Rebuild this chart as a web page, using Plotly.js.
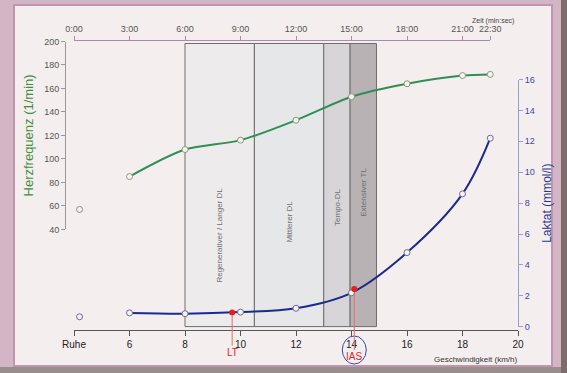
<!DOCTYPE html>
<html><head><meta charset="utf-8">
<script src="https://cdn.plot.ly/plotly-3.0.1.min.js"></script>
<style>html,body{margin:0;padding:0;background:#d3b5c5;} #chart{width:567px;height:373px;}</style>
</head><body><div id="chart"></div>
<script>
// ---- data ----
const restSpeed = 4.2;          // "Ruhe"
const restHeartRate = 57;
const restLactate = 0.65;
const speed = [6, 8, 10, 12, 14, 16, 18, 19];
const heartRate = [85, 108, 116, 133, 153, 164, 171, 172];
const lactate = [0.9, 0.85, 0.95, 1.2, 2.2, 4.8, 8.6, 12.2];
const thresholdNames = ['LT', 'IAS'];
const thresholdSpeed = [9.7, 14.1];
const thresholdLactate = [0.92, 2.45];
const zoneNames = ['Regenerativer / Langer DL', 'Mittlerer DL', 'Tempo-DL', 'Extensiver TL'];
const zoneEdges = [8, 10.5, 13, 13.95, 14.9];
const speedTicks = [4, 6, 8, 10, 12, 14, 16, 18, 20];
const speedTickText = ['Ruhe', '6', '8', '10', '12', '14', '16', '18', '20'];
const timeTicks = [0, 3, 6, 9, 12, 15, 18, 21, 22.5];
const timeTickText = ['0:00', '3:00', '6:00', '9:00', '12:00', '15:00', '18:00', '21:00', '22:30'];
const hfTicks = [40, 60, 80, 100, 120, 140, 160, 180, 200];
const lacTicks = [0, 2, 4, 6, 8, 10, 12, 14, 16];

// ---- layout helpers (pixel -> paper fraction) ----
const W = 567, H = 373, ML = 65, MR = 49, MT = 40, MB = 43;
const PW = W - ML - MR, PH = H - MT - MB;
const fx = p => (p - ML) / PW;
const fy = p => (H - MB - p) / PH;
const xStart = 74, xEnd = 518;                       // speed 4 .. 20
const pxPerKmh = (xEnd - xStart) / 16;
const timeEndPx = xStart + (22.5 / 1.5) * pxPerKmh;  // 22:30 aligned with stage speed

const zoneFill = ['#eeebed', '#e5e7e8', '#d7d5d8', '#b8b2b5'];
const zoneLabelY = [0.328, 0.374, 0.424, 0.474];

const shapes = [
  {type:'rect', xref:'paper', yref:'paper', x0:fx(14), x1:fx(552), y0:fy(366), y1:fy(5),
   fillcolor:'#f5eeee', line:{color:'#bf95b0', width:2}, layer:'below'},
  {type:'rect', xref:'paper', yref:'paper', x0:fx(0), x1:fx(567), y0:fy(373), y1:fy(367),
   fillcolor:'#998d8e', line:{width:0}, layer:'below'},
  {type:'rect', xref:'paper', yref:'paper', x0:fx(561), x1:fx(567), y0:fy(373), y1:fy(0),
   fillcolor:'#7d6c6e', line:{width:0}, layer:'below'}
];
for (let i = 0; i < zoneNames.length; i++) {
  shapes.push({type:'rect', xref:'x', yref:'paper', x0:zoneEdges[i], x1:zoneEdges[i+1],
    y0:fy(326.6), y1:fy(43.5), fillcolor:zoneFill[i], line:{color:'#6e6e6e', width:1}, layer:'below'});
}
// hand-drawn circle around IAS label
const iasPx = xStart + (thresholdSpeed[1] - 4) * pxPerKmh;
shapes.push({type:'circle', xref:'paper', yref:'paper', x0:fx(iasPx - 12), x1:fx(iasPx + 12),
  y0:fy(364), y1:fy(336), line:{color:'#3a4aa8', width:1}});

const annotations = [];
for (let i = 0; i < zoneNames.length; i++) {
  annotations.push({text:zoneNames[i], xref:'x', yref:'paper', x:(zoneEdges[i] + zoneEdges[i+1]) / 2,
    y:zoneLabelY[i], xanchor:'center', yanchor:'middle', textangle:-90, showarrow:false,
    font:{size:8, color:'#6e6e6e'}});
}
const thrAy = [40, 68];
for (let i = 0; i < thresholdNames.length; i++) {
  annotations.push({text:thresholdNames[i], xref:'x', yref:'y2', x:thresholdSpeed[i], y:thresholdLactate[i],
    showarrow:true, arrowhead:0, arrowwidth:1, arrowcolor:'#e2705e', ax:0, ay:thrAy[i], standoff:3,
    font:{size:10, color:'#e0262a'}});
}
annotations.push({text:'Zeit (min:sec)', xref:'x2', x:22.5, xshift:3, yref:'paper', y:fy(15),
  showarrow:false, font:{size:7, color:'#444'}});
annotations.push({text:'Geschwindigkeit (km/h)', xref:'x', x:20, xanchor:'right', yref:'paper', y:fy(359),
  yanchor:'middle', showarrow:false, borderpad:0, font:{size:8, color:'#333'}});

const traces = [
  {x:speed, y:heartRate, xaxis:'x', yaxis:'y', mode:'lines+markers', cliponaxis:false,
   line:{color:'#2f8f55', width:2, shape:'spline', smoothing:0.8},
   marker:{symbol:'circle', size:6, color:'#f6f3ee', line:{color:'#8a9a78', width:1}}},
  {x:[restSpeed], y:[restHeartRate], xaxis:'x', yaxis:'y', mode:'markers', cliponaxis:false,
   marker:{symbol:'circle', size:6, color:'#f6f3ee', line:{color:'#8a8a9a', width:1}}},
  {x:speed, y:lactate, xaxis:'x', yaxis:'y2', mode:'lines+markers', cliponaxis:false,
   line:{color:'#1c2a8e', width:2, shape:'spline', smoothing:1},
   marker:{symbol:'circle', size:6, color:'#f6f3ee', line:{color:'#6b6ba0', width:1}}},
  {x:[restSpeed], y:[restLactate], xaxis:'x', yaxis:'y2', mode:'markers', cliponaxis:false,
   marker:{symbol:'circle', size:6, color:'#f6f3ee', line:{color:'#6b6ba0', width:1}}},
  {x:thresholdSpeed, y:thresholdLactate, xaxis:'x', yaxis:'y2', mode:'markers', cliponaxis:false,
   marker:{symbol:'circle', size:6, color:'#e2201e'}}
];

const layout = {
  width:W, height:H, margin:{l:ML, r:MR, t:MT, b:MB, pad:0},
  paper_bgcolor:'#d3b5c5', plot_bgcolor:'rgba(0,0,0,0)', showlegend:false,
  font:{family:'Liberation Sans, Arial, sans-serif'},
  xaxis:{domain:[fx(xStart), fx(xEnd)], range:[4, 20], anchor:'free', position:0,
    tickmode:'array', tickvals:speedTicks, ticktext:speedTickText, ticks:'outside', ticklen:5,
    tickcolor:'#555', showline:true, linecolor:'#555', linewidth:1, showgrid:false, zeroline:false,
    tickfont:{size:10, color:'#222'}},
  xaxis2:{domain:[fx(xStart), fx(timeEndPx)], range:[0, 22.5], anchor:'free', position:1, side:'top',
    tickmode:'array', tickvals:timeTicks, ticktext:timeTickText, ticks:'outside', ticklen:4,
    tickcolor:'#b584b0', showline:true, linecolor:'#b584b0', linewidth:1, showgrid:false, zeroline:false,
    tickfont:{size:9, color:'#555'}},
  yaxis:{domain:[fy(229.4), fy(41.5)], range:[40, 200], anchor:'free', position:0,
    tickmode:'array', tickvals:hfTicks, ticks:'outside', ticklen:4, tickcolor:'#999',
    showline:true, linecolor:'#999', linewidth:1, showgrid:false, zeroline:false,
    tickfont:{size:9, color:'#555'},
    title:{text:'Herzfrequenz (1/min)', font:{size:13, color:'#3f8f3f'}, standoff:6}},
  yaxis2:{domain:[fy(326.8), fy(79.5)], range:[0, 16], anchor:'free', position:1, side:'right',
    tickmode:'array', tickvals:lacTicks, ticks:'outside', ticklen:4, tickcolor:'#9b9bd6',
    showline:true, linecolor:'#9b9bd6', linewidth:1, showgrid:false, zeroline:false,
    tickfont:{size:9, color:'#3a48a8'},
    title:{text:'Laktat (mmol/l)', font:{size:12, color:'#2b3796'}, standoff:8}},
  shapes:shapes, annotations:annotations
};

Plotly.newPlot('chart', traces, layout, {staticPlot:true, displayModeBar:false});
</script>
</body></html>
